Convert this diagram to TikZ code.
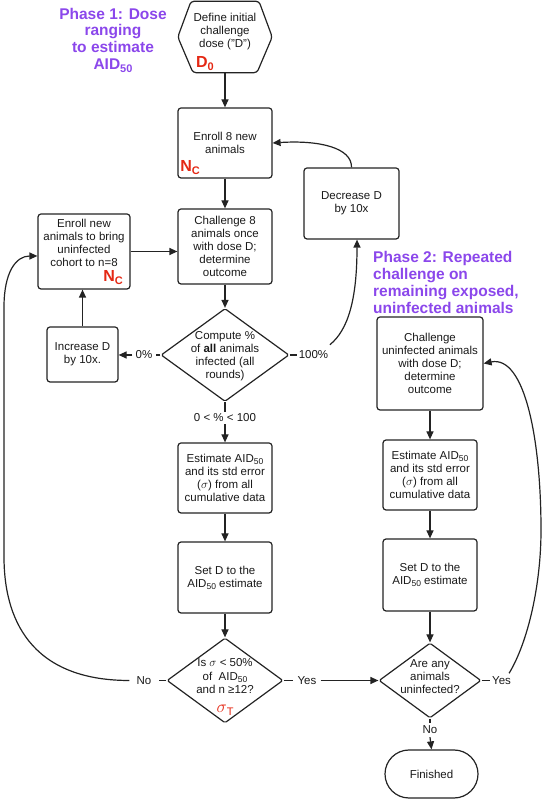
\documentclass[tikz,border=0pt]{standalone}
\usepackage{fontspec}
\setmainfont{Liberation Sans}
\usetikzlibrary{arrows.meta,shapes.geometric,shapes.misc}
\definecolor{ph}{RGB}{139,71,235}
\definecolor{rd}{RGB}{228,40,20}
\definecolor{ln}{RGB}{35,35,35}
\definecolor{tx}{RGB}{25,25,25}
\newcommand{\sbs}[1]{\raisebox{-0.35ex}{\fontsize{8.5}{8.5}\selectfont #1}}
\newcommand{\psbs}[1]{\raisebox{-0.35ex}{\fontsize{11}{11}\selectfont #1}}
\newcommand{\redlbl}[2]{\textcolor{rd}{\fontsize{16}{16}\selectfont\bfseries #1\raisebox{-0.35ex}{\fontsize{11}{11}\selectfont #2}}}
\begin{document}
\begin{tikzpicture}[x=1pt,y=1pt,
  base/.style={font=\fontsize{11.5}{13}\selectfont, text=tx},
  box/.style={base, draw=ln, line width=1.2pt, rounded corners=3pt, align=center, inner sep=0pt},
  dia/.style={diamond, draw=ln, line width=1.2pt, inner sep=0pt, rounded corners=1.5pt},
  txt/.style={base, align=center, inner sep=0pt},
  lab/.style={base, inner ysep=3pt},
  lin/.style={draw=ln, line width=1.2pt},
  arr/.style={lin, -{Triangle[length=8pt,width=7pt]}},
  phase/.style={text=ph, font=\fontsize{15.5}{16.7}\selectfont\bfseries, inner sep=0pt},
  red/.style={inner sep=0pt}]
\useasboundingbox (0,0) rectangle (542,800);

% Phase titles
\node[phase, align=center] (ph1) at (113,760) {Phase 1: Dose\\ranging\\to estimate\\AID\psbs{50}};
\node[phase, align=left, anchor=west] (ph2) at (373,517.5) {Phase 2: Repeated\\challenge on\\remaining exposed,\\uninfected animals};

% Phase 1 column
\node[minimum width=94pt, minimum height=71pt, inner sep=0pt,
      label={[txt, yshift=5pt]center:{Define initial\\challenge\\dose ("D")}}] (hex) at (225,763) {};
\draw[lin, rounded corners=3pt] (hex.west) -- ([xshift=-34pt]hex.north) -- ([xshift=34pt]hex.north)
  -- (hex.east) -- ([xshift=32pt]hex.south) -- ([xshift=-32pt]hex.south) -- cycle;
\node[red] (d0) at (205,736) {\redlbl{D}{0}};

\node[box, minimum width=94pt, minimum height=70pt] (en8) at (225,657) {Enroll 8 new\\animals};
\node[red] (nc1) at (190,632) {\redlbl{N}{C}};

\node[box, minimum width=94pt, minimum height=75pt] (chal8) at (225,553.5) {Challenge 8\\animals once\\with dose D;\\determine\\outcome};

\node[box, minimum width=92pt, minimum height=75pt,
      label={[txt, yshift=8.5pt]center:{Enroll new\\animals to bring\\uninfected\\cohort to n=8}}] (enL) at (84,548.5) {};
\node[red] (nc2) at (113,522) {\redlbl{N}{C}};

\node[box, minimum width=71pt, minimum height=55pt] (incD) at (82.5,445.5) {Increase D\\by 10x.};

\node[dia, minimum width=128pt, minimum height=93pt,
      label={[txt, yshift=-1.5pt]center:{Compute \%\\of \textbf{all} animals\\infected (all\\rounds)}}] (comp) at (225,445) {};
\node[lab, inner xsep=3pt] (p0) at (144,445) {0\%};
\node[lab, inner xsep=1.5pt] (p100) at (313.5,445) {100\%};

\node[box, minimum width=95pt, minimum height=71pt] (decD) at (351.5,596.5) {Decrease D\\by 10x};

\node[lab, inner ysep=2pt] (mid) at (225,382) {0 < \% < 100};

\node[box, minimum width=94pt, minimum height=70pt] (estL) at (225,322) {Estimate AID\sbs{50}\\and its std error\\($\sigma$) from all\\cumulative data};
\node[box, minimum width=94pt, minimum height=71pt] (setL) at (225,222.5) {Set D to the\\AID\sbs{50} estimate};

\node[dia, minimum width=116pt, minimum height=85pt,
      label={[txt, yshift=4pt, font=\fontsize{11.5}{13.5}\selectfont]center:{Is $\sigma$ < 50\%\\of\ \ AID\sbs{50}\\and n ≥12?}}] (isd) at (225,119.5) {};
\node[red] (sigt) at (225,90) {\textcolor{rd}{\fontsize{16}{16}\selectfont$\sigma$\raisebox{-0.4ex}{\fontsize{11}{11}\selectfont T}}};
\node[lab, inner xsep=4pt] (pYes) at (307,119.5) {Yes};
\node[lab, inner xsep=7pt] (pNo) at (144,119.5) {No};

% Phase 2 column
\node[box, minimum width=106pt, minimum height=93pt] (chalU) at (430,436.5) {Challenge\\uninfected animals\\with dose D;\\determine\\outcome};
\node[box, minimum width=94pt, minimum height=70pt] (estR) at (430,325) {Estimate AID\sbs{50}\\and its std error\\($\sigma$) from all\\cumulative data};
\node[box, minimum width=94pt, minimum height=72pt] (setR) at (430,225) {Set D to the\\AID\sbs{50} estimate};
\node[dia, minimum width=102pt, minimum height=75pt,
      label={[txt, yshift=4pt]center:{Are any\\animals\\uninfected?}}] (anyD) at (430,119.5) {};
\node[lab, inner xsep=2pt] (pYesR) at (501.5,119.5) {Yes};
\node[lab, inner ysep=3pt] (pNoR) at (430,70) {No};
\node[rounded rectangle, draw=ln, line width=1.2pt, base, minimum width=93pt, minimum height=48pt, inner sep=0pt] (fin) at (431.5,26) {Finished};

% waypoints
\coordinate (lwA) at (4,243);
\coordinate (lwB) at (4,493);
\coordinate (rwA) at (541,270);

% connectors phase 1
\draw[arr] (hex) -- (en8);
\draw[arr] (en8) -- (chal8);
\draw[arr] (enL.east) -- (enL.east -| chal8.west);
\draw[arr] (chal8) -- (comp);
\draw[lin] (comp.west) -- (p0.east);
\draw[arr] (p0.west) -- (p0.west -| incD.east);
\draw[arr] (incD.north) -- (incD.north |- enL.south);
\draw[lin] (comp.east) -- (p100.west);
\draw[arr] ([yshift=3pt]p100.north east) .. controls (348,470) and (357,500) .. ([xshift=5.5pt]decD.south);
\draw[arr] (decD.north) .. controls (352,652) and (320,660) .. (en8.east);
\draw[lin] (comp.south) -- (mid.north);
\draw[arr] (mid.south) -- (estL.north);
\draw[arr] (estL) -- (setL);
\draw[arr] (setL) -- (isd);
\draw[lin] (isd.east) -- (pYes.west);
\draw[arr] (pYes.east) -- (anyD.west);
\draw[lin] (isd.west) -- (pNo.east);
\draw[arr] (pNo.west) .. controls (29,119.5) and (4,183) .. (lwA) -- (lwB)
  .. controls (4,528) and (16,544) .. ([yshift=-4.5pt]enL.west);

% connectors phase 2
\draw[arr] (chalU) -- (estR);
\draw[arr] (estR) -- (setR);
\draw[arr] (setR) -- (anyD);
\draw[lin] (anyD.south) -- (pNoR.north);
\draw[arr] (pNoR.south) -- (fin.north);
\draw[lin] (anyD.east) -- (pYesR.west);
\draw[arr] ([xshift=-4pt]pYesR.north east) .. controls (528,158) and (541,215) .. (rwA)
  .. controls (541,360) and (525,445) .. (chalU.east);
\end{tikzpicture}
\end{document}
